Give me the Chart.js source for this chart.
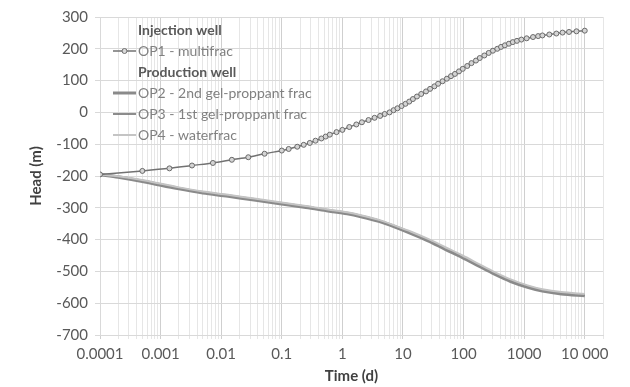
<!DOCTYPE html>
<html lang="en">
<head>
    <meta charset="UTF-8">
    <title>Head vs time</title>
    <script src="https://cdn.jsdelivr.net/npm/chart.js"></script>
    <style>
        body {
            margin: 0;
            background-color: #ffffff;
        }
        .wrap {
            position: relative;
            width: 630px;
            height: 387px;
        }
    </style>
</head>
<body>
    <div class="wrap">
        <canvas id="myChart" width="630" height="387"></canvas>
    </div>

    <script>
        // Injection well
        const timeOP1 = [0.0001, 0.0005, 0.0014, 0.0033, 0.0073, 0.015, 0.028, 0.052,
            0.1, 0.13, 0.18, 0.23, 0.29, 0.36, 0.45, 0.53, 0.62, 0.8,
            1, 1.3, 1.7, 2.1, 2.7, 3.4, 4.2, 5, 6, 7, 8.1, 9.5,
            11, 12.7, 14.6, 17, 20, 24, 28, 33, 38, 45, 53, 62, 72, 84,
            97, 115, 135, 160, 185, 220, 260, 305, 360, 415, 480, 560, 650, 760, 900,
            1100, 1400, 1700, 2000, 2600, 3400, 4300, 5500, 7300, 10000];
        const headOP1 = [-195, -184, -176, -167, -159, -149, -141, -130,
            -120, -115, -108, -102, -96, -89, -82, -76, -70, -62,
            -55, -46, -38, -31, -24, -17, -11, -5, 0, 7, 13, 20,
            27, 34, 42, 50, 58, 66, 74, 82, 90, 98, 106, 114, 121, 129,
            137, 146, 155, 163, 171, 179, 187, 194, 200, 206, 211, 216, 221, 225, 229,
            233, 237, 240, 242, 245, 248, 251, 253, 255, 257];

        // Production wells (the three curves almost overlap)
        const timeProd = [0.0001, 0.0002, 0.00055, 0.0019, 0.005, 0.013, 0.035, 0.087, 0.25, 0.58, 1.2, 2.1, 4, 7.4, 14, 26, 50, 96, 180, 325, 600, 1140, 2000, 4100, 10000];
        const headOP2 = [-195, -203, -218, -239, -253, -263, -275, -286, -298, -309, -318, -328, -342, -360, -381, -403, -430, -456, -483, -508, -531, -549, -561, -570, -576];
        const headOP3 = [-195, -202, -216, -237, -251, -261, -273, -284, -296, -307, -316, -326, -340, -358, -378, -400, -427, -453, -480, -505, -528, -547, -559, -568, -574];
        const headOP4 = [-195, -201, -214, -235, -249, -259, -271, -282, -294, -305, -314, -324, -338, -356, -376, -398, -424, -450, -477, -502, -525, -544, -556, -565, -571];

        const xTickLabels = ['0.0001', '0.001', '0.01', '0.1', '1', '10', '100', '1000', '10 000'];
        const legendRows = [
            { text: 'Injection well', header: true },
            { text: 'OP1 - multifrac', color: '#727272', width: 1.5, marker: true },
            { text: 'Production well', header: true },
            { text: 'OP2 - 2nd gel-proppant frac', color: '#8a8a8a', width: 3 },
            { text: 'OP3 - 1st gel-proppant frac', color: '#666666', width: 1.5 },
            { text: 'OP4 - waterfrac', color: '#c4c4c4', width: 2 }
        ];

        function pairs(xs, ys) {
            return xs.map((x, i) => ({ x: x, y: ys[i] }));
        }

        function isDecade(v) {
            const l = Math.log10(v);
            return Math.abs(l - Math.round(l)) < 1e-9;
        }

        // legend drawn inside the plot, like the original
        const insideLegend = {
            id: 'insideLegend',
            afterDraw(chart) {
                const ctx = chart.ctx;
                const area = chart.chartArea;
                const x0 = area.left + 13;
                const xt = area.left + 38;
                ctx.save();
                ctx.textBaseline = 'middle';
                legendRows.forEach((row, i) => {
                    const y = area.top + 13 + i * 21;
                    if (row.header) {
                        ctx.font = 'bold 14px Lato';
                        ctx.fillStyle = '#595959';
                    } else {
                        ctx.strokeStyle = row.color;
                        ctx.lineWidth = row.width;
                        ctx.beginPath();
                        ctx.moveTo(x0, y);
                        ctx.lineTo(xt - 2, y);
                        ctx.stroke();
                        if (row.marker) {
                            ctx.beginPath();
                            ctx.arc((x0 + xt - 2) / 2, y, 2.5, 0, Math.PI * 2);
                            ctx.fillStyle = '#d9d9d9';
                            ctx.fill();
                            ctx.lineWidth = 1;
                            ctx.strokeStyle = '#6f6f6f';
                            ctx.stroke();
                        }
                        ctx.font = '14px Lato';
                        ctx.fillStyle = '#808080';
                    }
                    ctx.fillText(row.text, xt, y);
                });
                ctx.restore();
            }
        };

        const ctx = document.getElementById('myChart').getContext('2d');
        const chart = new Chart(ctx, {
            type: 'line',
            data: {
                datasets: [{
                    label: 'OP1 - multifrac',
                    data: pairs(timeOP1, headOP1),
                    borderColor: '#727272',
                    borderWidth: 1.5,
                    pointRadius: 2.5,
                    pointBorderWidth: 1,
                    pointBorderColor: '#6a6a6a',
                    pointBackgroundColor: '#d4d4d4',
                    tension: 0.3,
                    fill: false
                }, {
                    label: 'OP4 - waterfrac',
                    data: pairs(timeProd, headOP4),
                    borderColor: '#c4c4c4',
                    borderWidth: 2,
                    pointRadius: 0,
                    tension: 0.3,
                    fill: false
                }, {
                    label: 'OP2 - 2nd gel-proppant frac',
                    data: pairs(timeProd, headOP2),
                    borderColor: '#8a8a8a',
                    borderWidth: 3.5,
                    pointRadius: 0,
                    tension: 0.3,
                    fill: false
                }, {
                    label: 'OP3 - 1st gel-proppant frac',
                    data: pairs(timeProd, headOP3),
                    borderColor: '#606060',
                    borderWidth: 1.5,
                    pointRadius: 0,
                    tension: 0.3,
                    fill: false
                }]
            },
            options: {
                responsive: false,
                animation: false,
                layout: {
                    padding: { top: 17, right: 27, left: 0, bottom: 0 }
                },
                plugins: {
                    legend: { display: false },
                    tooltip: { enabled: false }
                },
                scales: {
                    x: {
                        type: 'logarithmic',
                        min: 0.0001,
                        max: 20000,
                        afterBuildTicks: function(scale) {
                            const ticks = [];
                            for (let e = -4; e <= 4; e++) {
                                for (let n = 1; n <= 9; n++) {
                                    const v = Number((n * Math.pow(10, e)).toPrecision(3));
                                    if (v <= 20000) ticks.push({ value: v });
                                }
                            }
                            scale.ticks = ticks;
                        },
                        afterFit: function(scale) {
                            scale.height = 52;
                        },
                        ticks: {
                            autoSkip: false,
                            maxRotation: 0,
                            padding: 6,
                            color: '#595959',
                            font: { family: 'Lato', size: 15 },
                            callback: function(value) {
                                if (!isDecade(value)) return '';
                                const i = Math.round(Math.log10(value)) + 4;
                                return xTickLabels[i];
                            }
                        },
                        grid: {
                            color: function(c) {
                                return c.tick && isDecade(c.tick.value) ? '#cfcfcf' : '#e6e6e6';
                            },
                            tickLength: 4
                        },
                        border: { color: '#d9d9d9' },
                        title: {
                            display: true,
                            text: 'Time (d)',
                            color: '#404040',
                            font: { family: 'Lato', size: 15, weight: 'bold' },
                            padding: { top: 2, bottom: 2 }
                        }
                    },
                    y: {
                        min: -700,
                        max: 300,
                        afterFit: function(scale) {
                            scale.width = 100;
                        },
                        ticks: {
                            stepSize: 100,
                            padding: 7,
                            color: '#595959',
                            font: { family: 'Lato', size: 15 }
                        },
                        grid: {
                            color: '#d9d9d9',
                            tickLength: 5
                        },
                        border: { color: '#d9d9d9' },
                        title: {
                            display: true,
                            text: 'Head (m)',
                            color: '#404040',
                            font: { family: 'Lato', size: 15, weight: 'bold' },
                            padding: { top: 27, bottom: 0 }
                        }
                    }
                }
            },
            plugins: [insideLegend]
        });
    </script>
</body>
</html>
